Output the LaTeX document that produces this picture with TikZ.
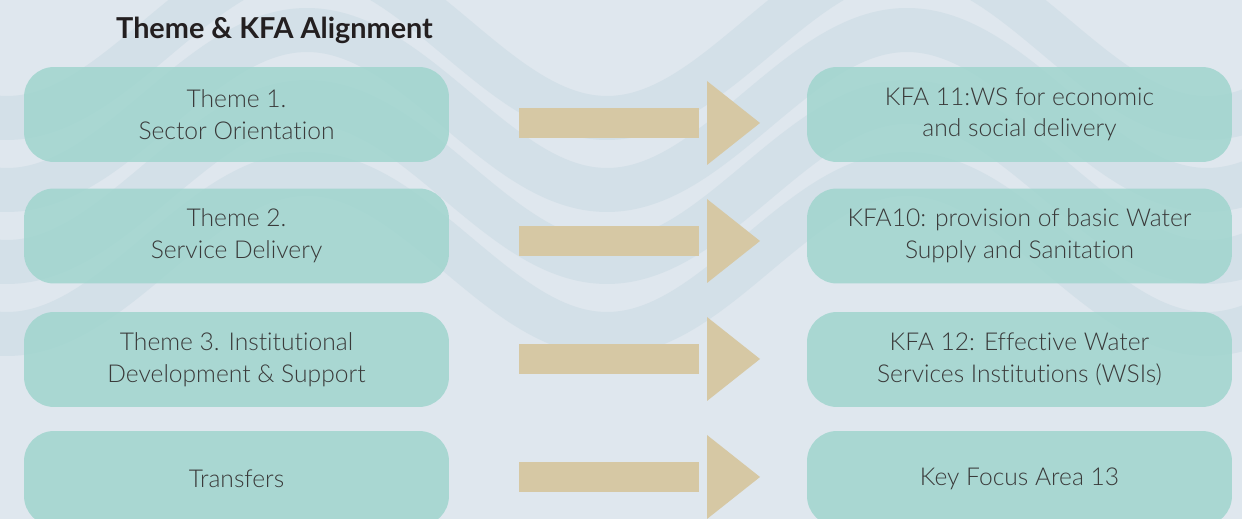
\documentclass[tikz,border=0pt]{standalone}
\usepackage{fontspec}
\setmainfont{Lato}[UprightFont=* Light,BoldFont=* Bold,Ligatures=CommonOff]
\usetikzlibrary{calc}
\definecolor{mist}{RGB}{223,231,238}
\definecolor{swell}{RGB}{211,224,232}
\definecolor{lagoon}{RGB}{160,213,206}
\definecolor{sand}{RGB}{214,200,164}
\definecolor{ink}{RGB}{58,58,58}
\definecolor{night}{RGB}{35,31,32}
\tikzset{
  card/.style={fill=lagoon,fill opacity=0.85,text opacity=1,text=ink,rounded corners=0.6cm,
    minimum width=8.5cm,minimum height=1.9cm,align=center,font=\fontsize{14}{18}\selectfont},
  band/.style={draw=swell,line width=0.88cm},
  heading/.style={font=\fontsize{16.4}{19}\selectfont\bfseries,text=night},
  % block arrow between a theme and its KFA
  pics/blockarrow/.style={code={
    \fill[sand] (-120.5,-15) rectangle (59.5,15);
    \fill[sand] (67.5,-42) -- (120.5,0) -- (67.5,42) -- cycle;
  }},
}

\begin{document}
\begin{tikzpicture}[x=0.02cm,y=-0.02cm]
  \useasboundingbox (0,0) rectangle (1242,519);
  \clip (0,0) rectangle (1242,519);
  \fill[mist] (0,0) rectangle (1242,519);
  \foreach \b in {118,190,262,334}
    \draw[band] plot[domain=-60:1300,samples=120,smooth] (\x,{\b-80+80*cos(0.6*(\x-607))});
  \node[heading] (title) at (274.5,30) {Theme \& KFA Alignment};
  \foreach \th/\kfa/\y/\ay [count=\k] in {
      {Theme 1.\\Sector Orientation}/{KFA 11:WS for economic\\and social delivery}/114.5/123,
      {Theme 2.\\Service Delivery}/{KFA10: provision of basic Water\\Supply and Sanitation}/236/241,
      {Theme 3. Institutional\\Development \& Support}/{KFA 12: Effective Water\\Services Institutions (WSIs)}/359.5/359,
      {Transfers}/{Key Focus Area 13}/478.5/477}{
    \node[card] (th\k) at (236.5,\y) {\th};
    \node[card] (kfa\k) at (1019.5,\y) {\kfa};
    \pic at (639.5,\ay) {blockarrow};
  }
\end{tikzpicture}
\end{document}
